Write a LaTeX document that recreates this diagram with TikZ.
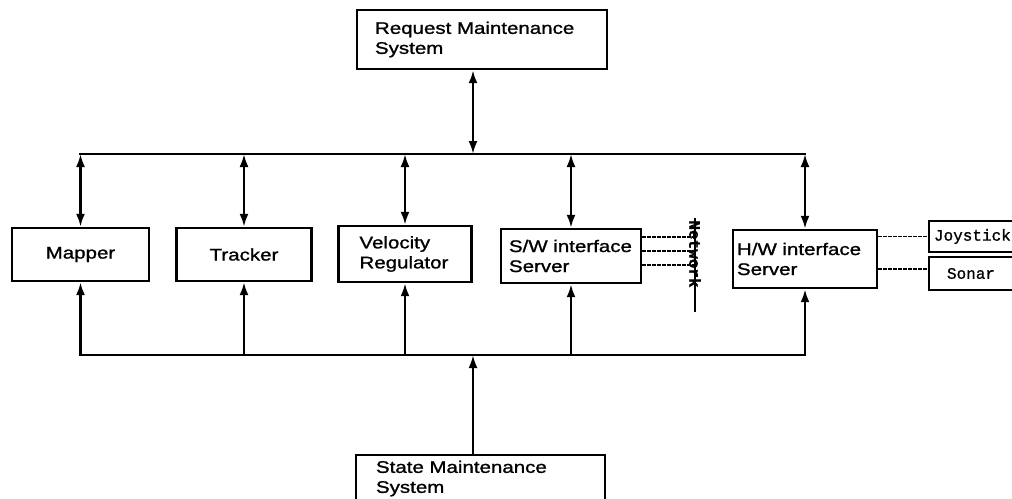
\documentclass[tikz,border=0pt]{standalone}
\usepackage{fontspec}
\setmainfont{Liberation Sans}[FakeStretch=1.22,FakeBold=1.2]
\newfontfamily\monofont{Liberation Mono}[FakeBold=1]
\usetikzlibrary{arrows.meta}
\tikzset{
  box/.style={draw, line width=2.4pt, inner sep=0pt, font=\fontsize{16.8}{20}\selectfont},
  mbox/.style={draw, line width=2.4pt, inner sep=0pt, font=\monofont\fontsize{16}{20}\selectfont},
  wire/.style={line width=2.4pt},
  tip/.tip={Latex[length=13pt,width=9pt]},
  dsh/.style={line width=1.6pt, dash pattern=on 3.5pt off 1.5pt}
}
\begin{document}
\begin{tikzpicture}[x=1pt,y=-1pt]
\useasboundingbox (0,0) rectangle (1012,498);
\clip (0,0) rectangle (1012,498);
% boxes
\node[box, minimum width=250pt, minimum height=59pt, text width=214pt, align=left] (req) at (482,39.5) {Request Maintenance\\System};
\node[box, minimum width=137pt, minimum height=53pt] (map) at (80.5,254.5) {Mapper};
\node[box, minimum width=135pt, minimum height=53pt] (trk) at (244,254.5) {Tracker};
\node[box, minimum width=133pt, minimum height=56pt, text width=91pt, align=left] (vel) at (405,254) {Velocity\\Regulator};
\node[box, minimum width=140pt, minimum height=54pt, text width=124pt, align=left] (sw) at (571,256) {S/W interface\\Server};
\node[box, minimum width=144pt, minimum height=58pt, text width=136pt, align=left] (hw) at (805,259) {H/W interface\\Server};
\node[mbox, minimum width=86pt, minimum height=31pt, text width=76pt, align=left] (joy) at (972,236.5) {Joystick};
\node[mbox, minimum width=86pt, minimum height=33pt, text width=50pt, align=left] (son) at (972,273.5) {Sonar};
\node[box, minimum width=249pt, minimum height=47pt, text width=209pt, align=left] (sms) at (480.5,478.5) {State Maintenance\\System};
% network bar
\node[fill=black, minimum width=2.5pt, minimum height=94pt, inner sep=0pt] (netbar) at (695,264.5) {};
\node[rotate=-90, inner sep=0pt, font=\monofont\bfseries\fontsize{16}{16}\selectfont] (netlbl) at (695,254) {Network};
% bus coordinates
\coordinate (tl) at (80,154);
\coordinate (tr) at (805,154);
\coordinate (tm) at (473,154);
\coordinate (bl) at (80,355);
\coordinate (br) at (805,355);
\coordinate (bm) at (473,355);
% buses
\draw[wire, line cap=rect] (tl) -- (tr);
\draw[wire, line cap=rect] (bl) -- (br);
% request
\draw[wire, tip-tip] (req.south -| tm) -- (tm);
% top verticals
\draw[wire, tip-tip] (map.north |- tl) -- (map.north);
\draw[wire, tip-tip] (trk.north |- tl) -- (trk.north);
\draw[wire, tip-tip] (vel.north |- tl) -- (vel.north);
\draw[wire, tip-tip] (sw.north |- tl) -- (sw.north);
\draw[wire, tip-tip] (hw.north |- tl) -- (hw.north);
% bottom verticals
\draw[wire, -tip] (map.south |- bl) -- (map.south);
\draw[wire, -tip] (trk.south |- bl) -- (trk.south);
\draw[wire, -tip] (vel.south |- bl) -- (vel.south);
\draw[wire, -tip] (sw.south |- bl) -- (sw.south);
\draw[wire, -tip] (hw.south |- bl) -- (hw.south);
% state
\draw[wire, -tip] (sms.north -| bm) -- (bm);
% network links
\draw[dsh] ([yshift=19pt]sw.east) -- ([yshift=19pt]sw.east -| netbar.west);
\draw[dsh] ([yshift=5pt]sw.east) -- ([yshift=5pt]sw.east -| netbar.west);
\draw[dsh] ([yshift=-9pt]sw.east) -- ([yshift=-9pt]sw.east -| netbar.west);
% device links
\draw[dsh] (hw.east |- joy.west) -- (joy.west);
\draw[dsh] ([yshift=-10pt]hw.east) -- ([yshift=-10pt]hw.east -| son.west);
\end{tikzpicture}
\end{document}
